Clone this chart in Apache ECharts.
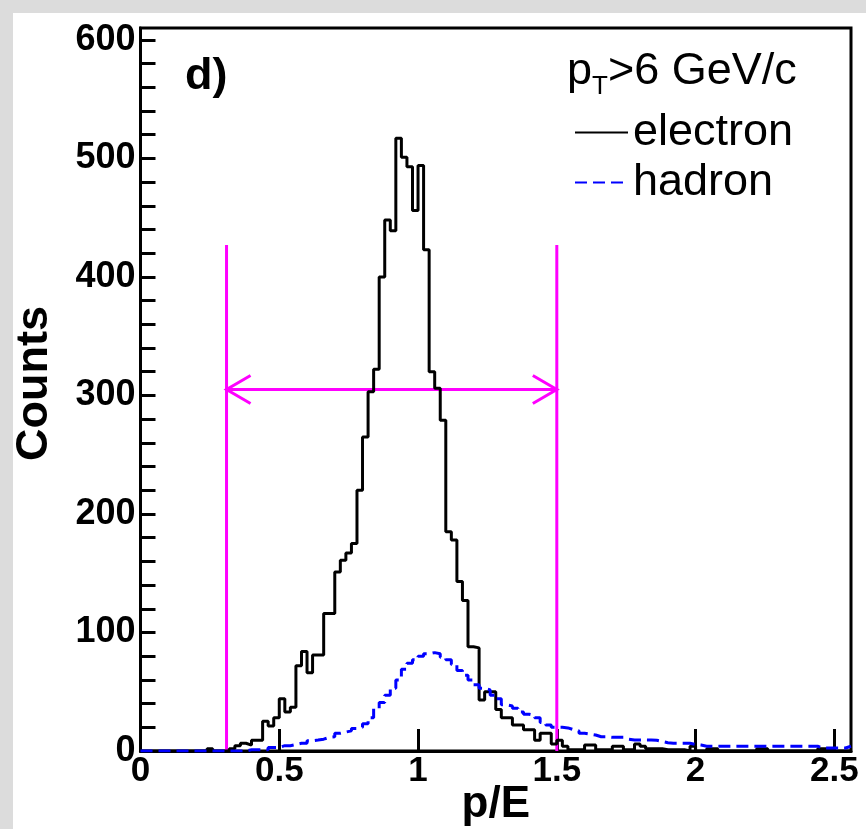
<!DOCTYPE html>
<html>
<head>
<meta charset="utf-8">
<script src="https://cdn.jsdelivr.net/npm/echarts@6/dist/echarts.min.js"></script>
<style>
  html, body { margin: 0; padding: 0; background: #dcdcdc; }
  #chart { position: absolute; left: 13px; top: 13px; width: 853px; height: 816px; background: #fff; }
</style>
</head>
<body>
<div id="chart"></div>
<script>
// histogram binning of p/E: 128 bins of 0.02 from 0 to 2.56
const binWidth = 0.02;
const xMax = 2.56;
const yMax = 610;

// counts per bin
const electron = [
  0, 0, 0, 0, 0, 0, 0, 0, 0, 0,
  0, 0, 2, 0, 0, 0, 2, 4.5, 6.5, 5,
  9, 9, 25, 21, 28, 44, 33, 37, 72, 84,
  66, 81, 81, 116, 116, 151, 161, 167, 175, 220,
  265, 303, 322, 400, 448, 439, 517, 501, 493, 456,
  494, 423, 320, 306, 279, 185, 178, 143, 127, 88,
  87, 43, 50, 50, 35, 28, 28, 22, 22, 18,
  18, 9, 15, 15, 6, 9, 4, 1, 1, 1,
  5, 5, 1, 1, 1, 4, 4, 1, 1, 6,
  4, 2, 2, 2, 1, 1, 1, 1, 0, 4,
  0, 0, 2, 2, 0, 0, 0, 0, 0, 0,
  0, 2, 2, 0, 0, 0, 0, 0, 0, 0,
  0, 0, 2, 2, 2, 0, 0, 0
];
const hadron = [
  0, 0, 0, 0, 0, 0, 0, 0, 0, 0,
  0, 0, 0, 0, 0, 0, 0, 0, 0, 1,
  1, 1, 1, 3, 3, 4.5, 4.5, 5.5, 6.5, 6.5,
  8.7, 9.3, 10, 11.5, 12, 15, 16, 17, 19, 20,
  23, 28, 36, 41, 47, 53, 60, 69, 74, 77,
  80, 82, 83, 82, 79, 77, 73, 68, 64, 60,
  56, 53, 51.5, 47, 44, 39, 38, 36, 33, 31,
  30, 28, 24, 22, 20, 20, 19.5, 18, 17, 15,
  14.3, 13.5, 12, 12, 11.5, 11.5, 11.5, 10, 9.3, 9.3,
  9.3, 9.3, 9, 8, 7, 6.5, 6.5, 6.5, 6.5, 5.5,
  5, 4, 4, 4, 4, 4, 4, 4, 4, 4,
  4, 4, 4, 4, 4, 4, 4, 4, 4, 4,
  4, 4, 2.5, 2.5, 2.5, 2.5, 2.5, 4
];

// p/E selection window drawn in magenta
const cutLow = 0.31;
const cutHigh = 1.5;
const cutTop = 427;
const arrowY = 305;

const font = '"Liberation Sans", Arial, Helvetica, sans-serif';

// bin lower edges + closing point, for a step outline
function toSteps(counts) {
  const pts = counts.map((c, i) => [+(i * binWidth).toFixed(2), c]);
  pts.push([+(counts.length * binWidth).toFixed(2), counts[counts.length - 1]]);
  return pts;
}

const chart = echarts.init(document.getElementById('chart'));

const option = {
  animation: false,
  textStyle: { fontFamily: font },
  title: [
    {
      text: 'd)',
      left: 172,
      top: 41,
      padding: 0,
      textStyle: { fontSize: 45, fontWeight: 'bold', color: '#000', fontFamily: font }
    },
    {
      text: '{a|p}{b|T}{a|>6 GeV/c}',
      left: 554,
      top: 31,
      padding: 0,
      textStyle: {
        rich: {
          a: { fontSize: 45, fontWeight: 'normal', lineHeight: 56, verticalAlign: 'middle', color: '#000', fontFamily: font },
          b: { fontSize: 26, fontWeight: 'normal', verticalAlign: 'bottom', color: '#000', fontFamily: font }
        }
      }
    }
  ],
  legend: {
    orient: 'vertical',
    left: 561,
    top: 97,
    padding: 0,
    itemGap: 5,
    itemWidth: 53,
    itemHeight: 14,
    selectedMode: false,
    itemStyle: { opacity: 0 },
    data: ['electron', 'hadron'],
    textStyle: { fontSize: 45, color: '#000', fontFamily: font }
  },
  grid: {
    left: 127.5,
    top: 15,
    width: 710.5,
    height: 723,
    containLabel: false,
    outerBoundsMode: 'none',
    show: true,
    borderColor: '#000',
    borderWidth: 3,
    backgroundColor: 'transparent'
  },
  xAxis: {
    type: 'value',
    min: 0,
    max: xMax,
    interval: 0.5,
    name: 'p/E',
    nameLocation: 'middle',
    nameGap: 32,
    nameMoveOverlap: false,
    nameTextStyle: { fontSize: 44, fontWeight: 'bold', color: '#000', fontFamily: font },
    axisLine: { onZero: false, lineStyle: { color: '#000', width: 3 } },
    axisTick: { inside: true, length: 22, lineStyle: { color: '#000', width: 3 } },
    axisLabel: { fontSize: 35, fontWeight: 'bold', color: '#000', margin: 3, showMaxLabel: false, fontFamily: font },
    splitLine: { show: false }
  },
  yAxis: {
    type: 'value',
    min: 0,
    max: yMax,
    interval: 20,
    name: 'Counts',
    nameLocation: 'middle',
    nameGap: 83,
    nameRotate: 90,
    nameTextStyle: { fontSize: 45, fontWeight: 'bold', color: '#000', fontFamily: font, padding: [0, 0, 0, 12] },
    axisLine: { onZero: false, lineStyle: { color: '#000', width: 3 } },
    axisTick: { inside: true, length: 15, lineStyle: { color: '#000', width: 3 } },
    axisLabel: {
      fontSize: 36,
      fontWeight: 'bold',
      color: '#000',
      margin: 5,
      showMaxLabel: false,
      fontFamily: font,
      formatter: v => (v % 100 === 0 && v <= 600 ? String(v) : '')
    },
    splitLine: { show: false }
  },
  series: [
    {
      type: 'custom',
      silent: true,
      z: 2,
      data: [[cutLow, cutHigh, cutTop, arrowY]],
      renderItem: function (params, api) {
        const lo = api.value(0), hi = api.value(1), top = api.value(2), ay = api.value(3);
        const style = { stroke: '#ff00ff', lineWidth: 3, fill: null };
        const loB = api.coord([lo, 0]), loT = api.coord([lo, top]);
        const hiB = api.coord([hi, 0]), hiT = api.coord([hi, top]);
        const a = api.coord([lo, ay]), b = api.coord([hi, ay]);
        const hx = 24, hy = 14;
        return {
          type: 'group',
          children: [
            { type: 'line', shape: { x1: loB[0], y1: loB[1], x2: loT[0], y2: loT[1] }, style: style },
            { type: 'line', shape: { x1: hiB[0], y1: hiB[1], x2: hiT[0], y2: hiT[1] }, style: style },
            { type: 'line', shape: { x1: a[0], y1: a[1], x2: b[0], y2: b[1] }, style: style },
            { type: 'polyline', shape: { points: [[a[0] + hx, a[1] - hy], a, [a[0] + hx, a[1] + hy]] }, style: style },
            { type: 'polyline', shape: { points: [[b[0] - hx, b[1] - hy], b, [b[0] - hx, b[1] + hy]] }, style: style }
          ]
        };
      }
    },
    {
      name: 'electron',
      type: 'line',
      step: 'end',
      symbol: 'none',
      z: 3,
      data: toSteps(electron),
      lineStyle: { color: '#000', width: 3 },
      itemStyle: { color: '#000' }
    },
    {
      name: 'hadron',
      type: 'line',
      step: 'end',
      symbol: 'none',
      z: 4,
      data: toSteps(hadron),
      lineStyle: { color: '#0000ff', width: 3, type: [12, 6] },
      itemStyle: { color: '#0000ff' }
    }
  ]
};

chart.setOption(option);
window.addEventListener('resize', () => chart.resize());
</script>
</body>
</html>
